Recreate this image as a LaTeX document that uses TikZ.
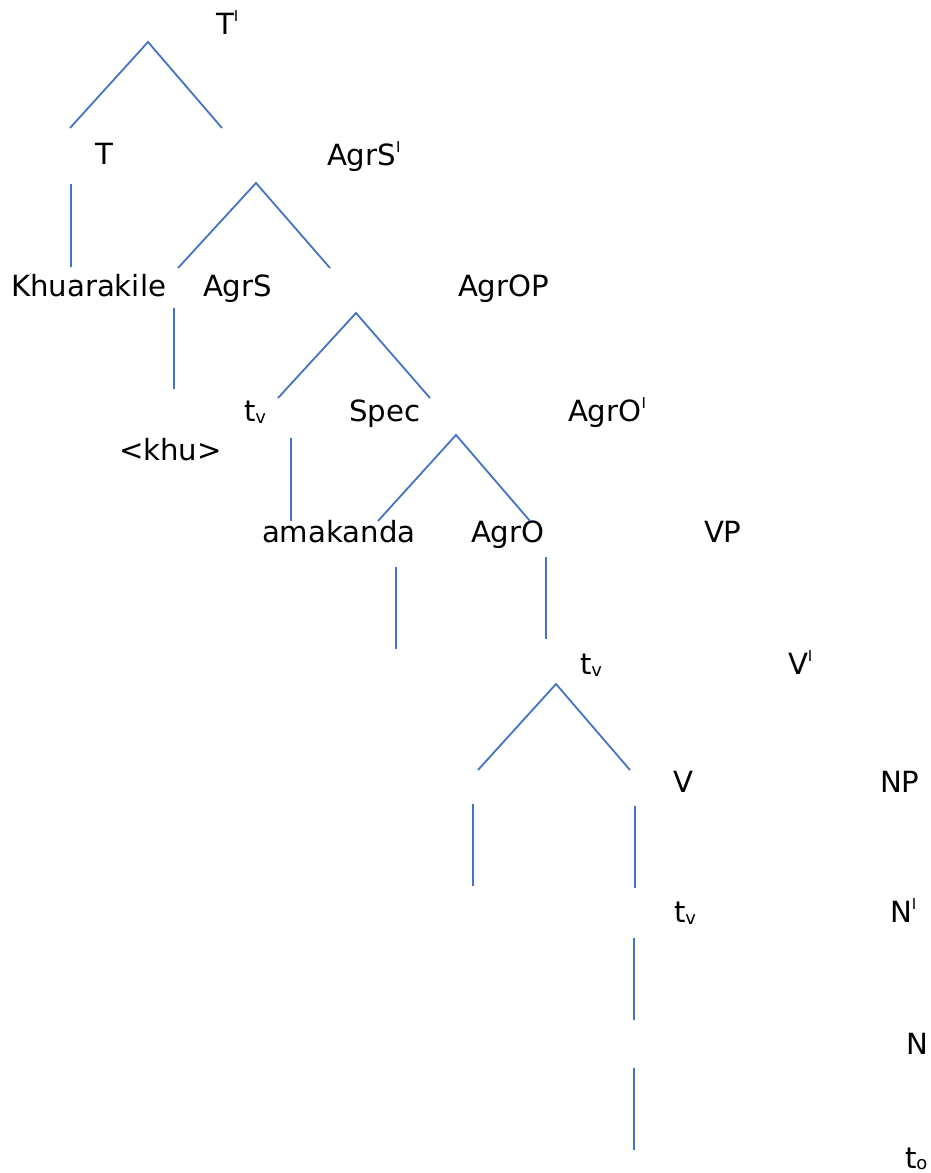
\documentclass[tikz,border=0pt]{standalone}
\usepackage{fontspec}
\setmainfont{DejaVu Sans}
\definecolor{treeblue}{HTML}{4472C4}
\newcommand\primebar{\raisebox{13pt}{\fontsize{15}{15}\selectfont I}}
\newcommand\subv{\raisebox{-2pt}{\fontsize{18}{18}\selectfont v}}
\newcommand\subo{\raisebox{-1.5pt}{\fontsize{18}{18}\selectfont o}}
\begin{document}
\begin{tikzpicture}[x=1pt,y=-1pt,
  lab/.style={inner sep=0pt,outer sep=0pt,anchor=base west,font=\fontsize{29.2}{32}\selectfont},
  br/.style={draw=treeblue,line width=1.8pt}]
\useasboundingbox (0,0) rectangle (931,1173);
% labels
\node[lab] (Tbar) at (216,34) {T\primebar};
\node[lab] (T) at (95,164) {T};
\node[lab] (AgrSbar) at (327,165) {AgrS\primebar};
\node[lab] (Khu) at (11,296) {Khuarakile};
\node[lab] (AgrS) at (203,296) {AgrS};
\node[lab] (AgrOP) at (458,296) {AgrOP};
\node[lab] (tv1) at (244,421) {t\subv};
\node[lab] (Spec) at (349,421) {Spec};
\node[lab] (AgrObar) at (568,421) {AgrO\primebar};
\node[lab] (khu) at (119,460) {<khu>};
\node[lab] (amak) at (262,542) {amakanda};
\node[lab] (AgrO) at (471,542) {AgrO};
\node[lab] (VP) at (704,542) {VP};
\node[lab] (tv2) at (580,674) {t\subv};
\node[lab] (Vbar) at (788,674) {V\primebar};
\node[lab] (V) at (673,792) {V};
\node[lab] (NP) at (880,792) {NP};
\node[lab] (tv3) at (674,922) {t\subv};
\node[lab] (Nbar) at (890,922) {N\primebar};
\node[lab] (N) at (906,1054) {N};
\node[lab] (to) at (905,1168) {t\subo};
% branch end points
\coordinate (a1) at (70,128); \coordinate (a2) at (148,42); \coordinate (a3) at (222,128);
\coordinate (b1) at (71,184); \coordinate (b2) at (71,267);
\coordinate (c1) at (178,268); \coordinate (c2) at (256,183); \coordinate (c3) at (330,268);
\coordinate (d1) at (174,308); \coordinate (d2) at (174,389);
\coordinate (e1) at (278,398); \coordinate (e2) at (356,313); \coordinate (e3) at (430,398);
\coordinate (f1) at (291,438); \coordinate (f2) at (291,521);
\coordinate (g1) at (378,521); \coordinate (g2) at (456,435); \coordinate (g3) at (530,521);
\coordinate (h1) at (396,567); \coordinate (h2) at (396,649);
\coordinate (i1) at (546,557); \coordinate (i2) at (546,639);
\coordinate (j1) at (478,770); \coordinate (j2) at (556,684); \coordinate (j3) at (630,770);
\coordinate (k1) at (473,804); \coordinate (k2) at (473,886);
\coordinate (l1) at (635,806); \coordinate (l2) at (635,888);
\coordinate (m1) at (634,938); \coordinate (m2) at (634,1020);
\coordinate (n1) at (634,1068); \coordinate (n2) at (634,1150);
% branches
\draw[br] (a1) -- (a2) -- (a3);
\draw[br] (b1) -- (b2);
\draw[br] (c1) -- (c2) -- (c3);
\draw[br] (d1) -- (d2);
\draw[br] (e1) -- (e2) -- (e3);
\draw[br] (f1) -- (f2);
\draw[br] (g1) -- (g2) -- (g3);
\draw[br] (h1) -- (h2);
\draw[br] (i1) -- (i2);
\draw[br] (j1) -- (j2) -- (j3);
\draw[br] (k1) -- (k2);
\draw[br] (l1) -- (l2);
\draw[br] (m1) -- (m2);
\draw[br] (n1) -- (n2);
\end{tikzpicture}
\end{document}
